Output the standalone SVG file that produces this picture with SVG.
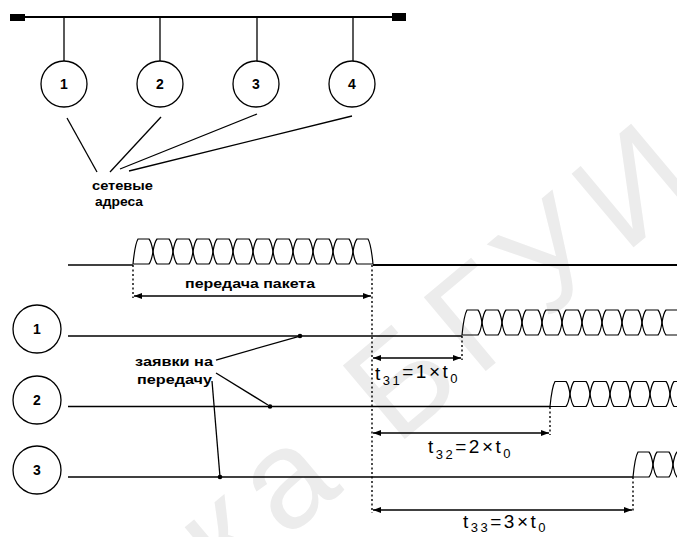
<svg xmlns="http://www.w3.org/2000/svg" xmlns:xlink="http://www.w3.org/1999/xlink" width="677" height="537" viewBox="0 0 677 537">
<style>
.ln{stroke:#000;stroke-width:1.3;fill:none}
.bus{stroke:#000;stroke-width:2;fill:none}
.node{fill:#fff;stroke:#000;stroke-width:1.3}
.dot{stroke:#000;stroke-width:1.4;fill:none;stroke-dasharray:2 2.5}
.cell{fill:none;stroke:#000;stroke-width:1.2}
.num{font-family:"Liberation Sans",Arial,sans-serif;font-weight:bold;font-size:14px;text-anchor:middle}
.lbl{font-family:"Liberation Sans",Arial,sans-serif;font-weight:bold;font-size:12px}
.tl{font-family:"Liberation Sans",Arial,sans-serif;font-size:19px;letter-spacing:2.5px}
.sub{font-size:13px}
.wm{font-family:"Liberation Sans",Arial,sans-serif;font-size:140px;letter-spacing:14px;fill:#ececec}
</style>
<defs>
<marker id="ah" viewBox="0 0 8 6" refX="8" refY="3" markerWidth="8" markerHeight="6" markerUnits="userSpaceOnUse" orient="auto-start-reverse">
<path d="M0,0 L8,3 L0,6 Z" fill="#000"/>
</marker>
<path id="cell" d="M0,12.5 Q1.5,3 4,0 H16 Q18.5,3 20,12.5 Q18.5,22 16,25 H4 Q1.5,22 0,12.5 Z"/>
<path id="cellS" d="M0,25 Q2,5 5,0 H16 Q18.5,3 20,12.5 Q18.5,22 16,25 H0"/>
<path id="cellE" d="M0,12.5 Q1.5,3 4,0 H15 Q18,5 20,25 H4 Q1.5,22 0,12.5"/>
</defs>
<rect width="677" height="537" fill="#fff"/>
<g id="watermark">
<text class="wm" transform="translate(225,590) rotate(-40)">ка БГУИ</text>
</g>
<g id="connectors">
<line class="bus" x1="12" y1="17" x2="404" y2="17"/>
<rect x="10" y="14" width="15" height="7" fill="#000"/>
<rect x="392" y="13" width="14" height="8" fill="#000"/>
<line class="ln" x1="64" y1="17" x2="64" y2="61"/>
<line class="ln" x1="160" y1="17" x2="160" y2="61"/>
<line class="ln" x1="257" y1="17" x2="257" y2="61"/>
<line class="ln" x1="353" y1="17" x2="353" y2="61"/>
<line class="ln" x1="67" y1="118" x2="97" y2="172"/>
<line class="ln" x1="161" y1="117" x2="110" y2="172"/>
<line class="ln" x1="257" y1="114" x2="120" y2="169"/>
<line class="ln" x1="352" y1="116" x2="129" y2="171"/>
<line class="ln" x1="68" y1="265" x2="133" y2="265"/>
<line class="ln" x1="373" y1="265" x2="677" y2="265" style="stroke-width:1.8"/>
<line class="ln" x1="68" y1="336" x2="462" y2="336"/>
<line class="ln" x1="68" y1="406.5" x2="550" y2="406.5"/>
<line class="ln" x1="68" y1="477" x2="633" y2="477"/>
<line class="dot" x1="133" y1="265" x2="133" y2="298"/>
<line class="dot" x1="372" y1="265" x2="372" y2="513"/>
<line class="dot" x1="462" y1="336" x2="462" y2="360"/>
<line class="dot" x1="550" y1="407" x2="550" y2="435"/>
<line class="dot" x1="633" y1="477" x2="633" y2="512"/>
<line class="ln" x1="134" y1="296" x2="371" y2="296" marker-start="url(#ah)" marker-end="url(#ah)"/>
<line class="ln" x1="373" y1="358" x2="461" y2="358" marker-start="url(#ah)" marker-end="url(#ah)"/>
<line class="ln" x1="373" y1="433" x2="549" y2="433" marker-start="url(#ah)" marker-end="url(#ah)"/>
<line class="ln" x1="373" y1="510" x2="632" y2="510" marker-start="url(#ah)" marker-end="url(#ah)"/>
<line class="ln" x1="216" y1="360" x2="300" y2="336"/>
<line class="ln" x1="216" y1="373" x2="268" y2="405"/>
<line class="ln" x1="212" y1="381" x2="220" y2="477"/>
<circle cx="300" cy="336" r="2.3"/>
<circle cx="270" cy="406.5" r="2.3"/>
<circle cx="220" cy="477" r="2.3"/>
</g>
<g id="packet" class="cell">
<use xlink:href="#cellS" x="133" y="239"/>
<use xlink:href="#cell" x="153" y="239"/>
<use xlink:href="#cell" x="173" y="239"/>
<use xlink:href="#cell" x="193" y="239"/>
<use xlink:href="#cell" x="213" y="239"/>
<use xlink:href="#cell" x="233" y="239"/>
<use xlink:href="#cell" x="253" y="239"/>
<use xlink:href="#cell" x="273" y="239"/>
<use xlink:href="#cell" x="293" y="239"/>
<use xlink:href="#cell" x="313" y="239"/>
<use xlink:href="#cell" x="333" y="239"/>
<use xlink:href="#cellE" x="353" y="239"/>
</g>
<g id="signal1" class="cell">
<use xlink:href="#cellS" x="462" y="310"/>
<use xlink:href="#cell" x="482" y="310"/>
<use xlink:href="#cell" x="502" y="310"/>
<use xlink:href="#cell" x="522" y="310"/>
<use xlink:href="#cell" x="542" y="310"/>
<use xlink:href="#cell" x="562" y="310"/>
<use xlink:href="#cell" x="582" y="310"/>
<use xlink:href="#cell" x="602" y="310"/>
<use xlink:href="#cell" x="622" y="310"/>
<use xlink:href="#cell" x="642" y="310"/>
<use xlink:href="#cell" x="662" y="310"/>
</g>
<g id="signal2" class="cell">
<use xlink:href="#cellS" x="550" y="381.5"/>
<use xlink:href="#cell" x="570" y="381.5"/>
<use xlink:href="#cell" x="590" y="381.5"/>
<use xlink:href="#cell" x="610" y="381.5"/>
<use xlink:href="#cell" x="630" y="381.5"/>
<use xlink:href="#cell" x="650" y="381.5"/>
<use xlink:href="#cell" x="670" y="381.5"/>
</g>
<g id="signal3" class="cell">
<use xlink:href="#cellS" x="633" y="452"/>
<use xlink:href="#cell" x="653" y="452"/>
<use xlink:href="#cell" x="673" y="452"/>
</g>
<g id="node-top-1"><circle class="node" cx="64" cy="84" r="23"/><text class="num" x="64" y="89">1</text></g>
<g id="node-top-2"><circle class="node" cx="160" cy="84" r="23"/><text class="num" x="160" y="89">2</text></g>
<g id="node-top-3"><circle class="node" cx="256" cy="84" r="23"/><text class="num" x="256" y="89">3</text></g>
<g id="node-top-4"><circle class="node" cx="352" cy="84" r="23"/><text class="num" x="352" y="89">4</text></g>
<g id="node-row-1"><circle class="node" cx="37" cy="329" r="24"/><text class="num" x="37" y="334">1</text></g>
<g id="node-row-2"><circle class="node" cx="37" cy="400" r="24"/><text class="num" x="37" y="405">2</text></g>
<g id="node-row-3"><circle class="node" cx="37" cy="470" r="24"/><text class="num" x="37" y="475">3</text></g>
<g id="labels">
<text class="lbl" x="92" y="190" textLength="61" lengthAdjust="spacingAndGlyphs">сетевые</text>
<text class="lbl" x="95" y="206" textLength="48" lengthAdjust="spacingAndGlyphs">адреса</text>
<text class="lbl" x="185" y="288" textLength="130" lengthAdjust="spacingAndGlyphs">передача пакета</text>
<text class="lbl" x="135" y="366" textLength="78" lengthAdjust="spacingAndGlyphs">заявки на</text>
<text class="lbl" x="137" y="384" textLength="75" lengthAdjust="spacingAndGlyphs">передачу</text>
<text class="tl" x="375" y="380">t<tspan class="sub" dy="5">31</tspan><tspan dy="-7">=1×t</tspan><tspan class="sub" dy="5">0</tspan></text>
<text class="tl" x="428" y="453">t<tspan class="sub" dy="6">32</tspan><tspan dy="-6">=2×t</tspan><tspan class="sub" dy="5">0</tspan></text>
<text class="tl" x="463" y="528">t<tspan class="sub" dy="4">33</tspan><tspan dy="-4">=3×t</tspan><tspan class="sub" dy="4">0</tspan></text>
</g>
</svg>
